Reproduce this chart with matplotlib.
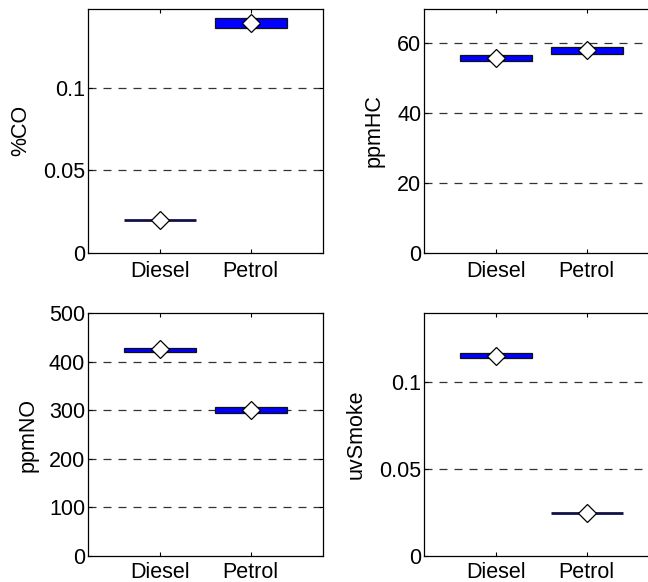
import numpy as np
import matplotlib.pyplot as plt

plt.rcParams['font.family'] = ['Liberation Sans', 'DejaVu Sans']
plt.rcParams['font.size'] = 15.5

fuels = ['Diesel', 'Petrol']

co_mean = [0.020, 0.139]
co_lo = [0.020, 0.136]
co_hi = [0.020, 0.142]

hc_mean = [55.8, 58.0]
hc_lo = [55.0, 56.9]
hc_hi = [56.6, 58.9]

no_mean = [425, 300]
no_lo = [420, 294]
no_hi = [429, 306]

smoke_mean = [0.1155, 0.025]
smoke_lo = [0.1138, 0.025]
smoke_hi = [0.1169, 0.025]

panels = [
    ('%CO', co_mean, co_lo, co_hi, 0.148, [0, 0.05, 0.1], ['0', '0.05', '0.1'], -0.243),
    ('ppmHC', hc_mean, hc_lo, hc_hi, 70, [0, 20, 40, 60], ['0', '20', '40', '60'], -0.167),
    ('ppmNO', no_mean, no_lo, no_hi, 500, [0, 100, 200, 300, 400, 500],
     ['0', '100', '200', '300', '400', '500'], -0.209),
    ('uvSmoke', smoke_mean, smoke_lo, smoke_hi, 0.14, [0, 0.05, 0.1], ['0', '0.05', '0.1'], -0.243),
]

W, H = 648, 582
fig = plt.figure(figsize=(W / 100, H / 100), dpi=100)

# axes boxes in pixels: left, top, right, bottom
boxes = [(88, 8.5, 323, 253), (424, 8.5, 659, 253),
         (88, 313, 323, 556), (424, 313, 659, 556)]

x = np.arange(1, len(fuels) + 1)

for i, ((lab, mean, lo, hi, ytop, yt, ytl, lx), (l, t, r, b)) in enumerate(zip(panels, boxes)):
    ax = fig.add_axes([l / W, 1 - b / H, (r - l) / W, (b - t) / H])
    lo = np.array(lo)
    hi = np.array(hi)
    for yv in yt[1:]:
        if yv < ytop:
            ax.axhline(yv, color='0.2', lw=0.9, ls=(0, (6.4, 5.6)), zorder=1)
    bars = ax.bar(x, hi - lo, bottom=lo, width=0.8, color='#0000ff',
                  edgecolor='#111111', linewidth=0.9, zorder=2)
    for bar, h in zip(bars, hi - lo):
        if h == 0:
            bar.set_linewidth(2.0)
            bar.set_edgecolor('#10104a')
    ax.plot(x, mean, 'D', ms=9, mfc='white', mec='black', mew=0.9, zorder=3)
    ax.set_xlim(0.2, 2.8)
    ax.set_ylim(0, ytop)
    ax.set_xticks(x)
    ax.set_xticklabels(fuels)
    ax.set_yticks(yt)
    ax.set_yticklabels(ytl)
    ax.tick_params(axis='both', direction='in', length=3, width=0.8,
                   top=True, right=True, colors='black')
    ax.tick_params(axis='x', pad=6 if i < 2 else 4.5)
    ax.tick_params(axis='y', pad=2)
    ax.set_ylabel(lab)
    ax.yaxis.set_label_coords(lx, 0.5)
    for s in ax.spines.values():
        s.set_linewidth(0.9)

fig.savefig('out.png', dpi=100)
